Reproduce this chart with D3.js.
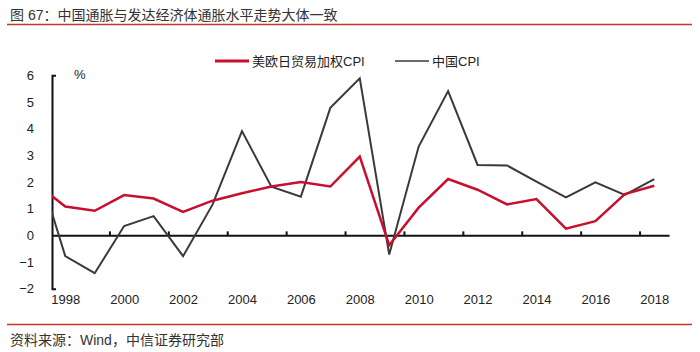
<!DOCTYPE html>
<html>
<head>
<meta charset="utf-8">
<script src="https://cdn.jsdelivr.net/npm/d3@7"></script>
<style>
body { margin: 0; background: #fff; }
svg text { font-family: "Liberation Sans", "Noto Sans CJK SC", sans-serif; fill: #222; }
</style>
</head>
<body>
<div id="chart"></div>
<script>
// data (1997 point only shows as the clipped start)
var years = [1997, 1998, 1999, 2000, 2001, 2002, 2003, 2004, 2005, 2006, 2007,
             2008, 2009, 2010, 2011, 2012, 2013, 2014, 2015, 2016, 2017, 2018];
var weightedCPI = [1.95, 1.08, 0.92, 1.51, 1.38, 0.88, 1.3, 1.58, 1.83, 2.0, 1.83,
                   2.95, -0.37, 1.04, 2.11, 1.71, 1.16, 1.36, 0.25, 0.53, 1.55, 1.86];
var chinaCPI = [2.8, -0.78, -1.42, 0.35, 0.72, -0.78, 1.15, 3.91, 1.82, 1.45, 4.78,
                5.89, -0.72, 3.33, 5.41, 2.64, 2.62, 2.01, 1.42, 1.99, 1.52, 2.11];
var yTicks = [-2, -1, 0, 1, 2, 3, 4, 5, 6];
var xLabels = [1998, 2000, 2002, 2004, 2006, 2008, 2010, 2012, 2014, 2016, 2018];
var xTickMarks = [1999.5, 2001.5, 2003.5, 2005.5, 2007.5, 2009.5, 2011.5, 2013.5, 2015.5, 2017.5];
var seriesNames = ["美欧日贸易加权CPI", "中国CPI"];

var W = 700, H = 352;
var margin = {top: 75.3, right: 31, bottom: 63.3, left: 52},
    width = W - margin.left - margin.right,
    height = H - margin.top - margin.bottom;

var svg = d3.select("#chart").append("svg")
  .attr("width", W)
  .attr("height", H);

// title + rules
svg.append("text")
  .attr("x", 10).attr("y", 20)
  .style("font-size", "14px")
  .style("fill", "#333")
  .text("图 67：中国通胀与发达经济体通胀水平走势大体一致");
svg.append("line")
  .attr("x1", 7).attr("x2", 692).attr("y1", 24.5).attr("y2", 24.5)
  .attr("stroke", "#c0392b").attr("stroke-width", 1.3);
svg.append("line")
  .attr("x1", 7).attr("x2", 692).attr("y1", 324.5).attr("y2", 324.5)
  .attr("stroke", "#c0392b").attr("stroke-width", 1.3);
svg.append("text")
  .attr("x", 10).attr("y", 345)
  .style("font-size", "14px")
  .style("fill", "#333")
  .text("资料来源：Wind，中信证券研究部");

var g = svg.append("g")
  .attr("transform", "translate(" + margin.left + "," + margin.top + ")");

var x = d3.scaleLinear()
  .domain([1997.55, 2018.5])
  .range([0, width]);

var y = d3.scaleLinear()
  .domain([-2, 6])
  .range([height, 0]);

g.append("clipPath").attr("id", "clip")
  .append("rect").attr("x", 0).attr("y", -10).attr("width", width).attr("height", height + 20);

// Y axis (outer ticks turned inward at both ends)
var yAxis = g.append("g")
  .call(d3.axisLeft(y).tickValues(yTicks).tickSizeInner(0).tickSizeOuter(-4).tickPadding(18).tickFormat(d3.format("d")));
yAxis.select(".domain").attr("stroke", "#111").attr("stroke-width", 2);
yAxis.selectAll("text").style("font-size", "13px");

// zero line with upward ticks
var zeroAxis = g.append("g")
  .attr("transform", "translate(0," + y(0) + ")")
  .call(d3.axisTop(x).tickValues(xTickMarks).tickSizeInner(4).tickSizeOuter(0).tickFormat(""));
zeroAxis.select(".domain").attr("stroke", "#111").attr("stroke-width", 2);
zeroAxis.selectAll(".tick line").attr("stroke", "#111").attr("stroke-width", 2);

// year labels at the bottom
var labelAxis = g.append("g")
  .attr("transform", "translate(0," + height + ")")
  .call(d3.axisBottom(x).tickValues(xLabels).tickSize(0).tickPadding(6).tickFormat(d3.format("d")));
labelAxis.select(".domain").remove();
labelAxis.selectAll("text").style("font-size", "13px");

// "%" unit
g.append("text")
  .attr("x", 22).attr("y", 4)
  .style("font-size", "13px")
  .text("%");

// lines
var line = function(vals) {
  return d3.line()
    .x(function(d, i) { return x(years[i]); })
    .y(function(d) { return y(d); })(vals);
};

g.append("path")
  .attr("clip-path", "url(#clip)")
  .attr("d", line(chinaCPI))
  .attr("fill", "none")
  .attr("stroke", "#3a3a3a")
  .attr("stroke-width", 2);

g.append("path")
  .attr("clip-path", "url(#clip)")
  .attr("d", line(weightedCPI))
  .attr("fill", "none")
  .attr("stroke", "#c8102e")
  .attr("stroke-width", 2.5);

// legend
var legend = svg.append("g");
var legendItems = [
  {name: seriesNames[0], color: "#c8102e", w: 2.8, x: 215},
  {name: seriesNames[1], color: "#3a3a3a", w: 1.6, x: 395}
];
legendItems.forEach(function(d) {
  legend.append("line")
    .attr("x1", d.x).attr("x2", d.x + 34)
    .attr("y1", 61).attr("y2", 61)
    .attr("stroke", d.color).attr("stroke-width", d.w);
  legend.append("text")
    .attr("x", d.x + 37).attr("y", 65.5)
    .style("font-size", "13px")
    .text(d.name);
});
</script>
</body>
</html>
